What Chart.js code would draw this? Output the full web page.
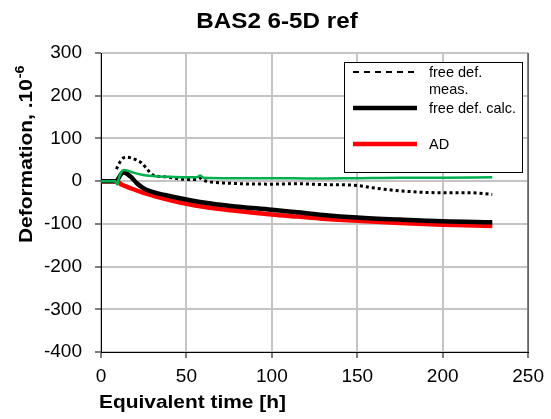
<!DOCTYPE html>
<html>
<head>
<meta charset="utf-8">
<script src="https://cdn.jsdelivr.net/npm/chart.js@4/dist/chart.umd.min.js"></script>
<style>
  html, body { margin: 0; padding: 0; background: #fff; }
  #c { display: block; }
</style>
</head>
<body>
<canvas id="c" width="551" height="419"></canvas>
<script>
// ---- chart texts ----
const chartTitle = "BAS2 6-5D ref";
const xTitle = "Equivalent time [h]";
const yTitleMain = "Deformation, .10";
const yTitleSup = "-6";

// ---- axes ----
const xTicks = [0, 50, 100, 150, 200, 250];
const yTicks = [-400, -300, -200, -100, 0, 100, 200, 300];

// ---- series: free def. meas. (dotted black) ----
const tMeas = [9, 10, 11, 12, 13, 15, 18, 21, 24, 27, 30, 38, 50, 56, 58, 60, 76, 100, 115, 130, 150, 158, 176, 198, 215, 229];
const vMeas = [28, 36, 44, 50, 54, 56, 54, 49, 42, 28, 15, 10, 4, 4, 7, 2, -5, -7, -6, -8, -10, -15, -23, -27, -27, -31];

// ---- series: free def. calc. (black) ----
const tCalc = [0, 9, 10, 11.5, 13, 15, 18, 21, 25, 30, 38, 50, 60, 76, 100, 115, 130, 150, 175, 200, 229];
const vCalc = [0, 0, 5, 15, 21, 18, 8, -5, -17, -25, -33, -43, -50, -58, -67, -73, -79, -85, -90, -94, -96];

// ---- series: AD (red) ----
const tAD = [0, 9, 12, 15, 19, 24, 28, 35, 42, 50, 60, 76, 100, 115, 130, 150, 175, 200, 229];
const vAD = [0, 0, -8, -13, -19, -26, -31, -39, -46, -53, -60, -68, -78, -83, -88, -93, -98, -102, -105];

// ---- series: green (not in legend) ----
const tGreen = [0, 8.5, 9.5, 10.5, 12, 13.5, 16, 19, 24, 30, 40, 50, 56, 58, 60, 76, 100, 125, 150, 175, 200, 229];
const vGreen = [0, 0, -8, 8, 22, 26, 24, 20, 15, 12, 10, 9, 9, 13, 8, 7, 7, 6, 7, 8, 8, 9];

const legendLabels = [["free def.", "meas."], ["free def. calc."], ["AD"]];

function pts(t, v) { return t.map((x, i) => ({ x: x, y: v[i] })); }

const FONT = '"Liberation Sans", Arial, sans-serif';
const STRETCH = 1.1;

const textPlugin = {
  id: 'texts',
  beforeDatasetsDraw(chart) {
    const { ctx, chartArea: a } = chart;
    ctx.save();
    ctx.strokeStyle = '#555';
    ctx.lineWidth = 1.5;
    ctx.beginPath();
    ctx.moveTo(a.right, a.top);
    ctx.lineTo(a.right, a.bottom);
    ctx.stroke();
    ctx.restore();
  },
  afterDraw(chart) {
    const { ctx } = chart;
    ctx.save();
    ctx.fillStyle = '#000';
    ctx.textBaseline = 'alphabetic';
    // title
    ctx.save();
    ctx.translate(277, 28);
    ctx.scale(STRETCH, 1);
    ctx.font = 'bold 22px ' + FONT;
    ctx.textAlign = 'center';
    ctx.fillText(chartTitle, 0, 0);
    ctx.restore();
    // x title
    ctx.save();
    ctx.translate(99, 408);
    ctx.scale(STRETCH, 1);
    ctx.font = 'bold 19px ' + FONT;
    ctx.textAlign = 'left';
    ctx.fillText(xTitle, 0, 0);
    ctx.restore();
    // y title rotated
    ctx.save();
    ctx.translate(32, 243);
    ctx.rotate(-Math.PI / 2);
    ctx.scale(STRETCH, 1);
    ctx.font = 'bold 19px ' + FONT;
    ctx.textAlign = 'left';
    ctx.fillText(yTitleMain, 0, 0);
    const w = ctx.measureText(yTitleMain).width;
    ctx.font = 'bold 13px ' + FONT;
    ctx.fillText(yTitleSup, w + 1, -8);
    ctx.restore();

    // legend box
    const bx = 344, by = 62, bw = 178, bh = 110;
    ctx.fillStyle = '#fff';
    ctx.fillRect(bx, by, bw, bh);
    ctx.strokeStyle = '#000';
    ctx.lineWidth = 1;
    ctx.strokeRect(bx + 0.5, by + 0.5, bw, bh);
    const ds = chart.data.datasets;
    const rows = [72, 108, 144];
    const lx1 = 353, lx2 = 417, tx = 429;
    for (let i = 0; i < 3; i++) {
      const d = ds[i];
      const y = rows[i];
      ctx.save();
      ctx.strokeStyle = d.borderColor;
      ctx.lineWidth = i === 0 ? 2 : 4.5;
      ctx.setLineDash(i === 0 ? [6, 5] : []);
      ctx.beginPath();
      ctx.moveTo(lx1, y);
      ctx.lineTo(lx2, y);
      ctx.stroke();
      ctx.restore();
      ctx.fillStyle = '#000';
      ctx.font = '14.5px ' + FONT;
      ctx.textAlign = 'left';
      ctx.textBaseline = 'middle';
      legendLabels[i].forEach((s, k) => ctx.fillText(s, tx, y + 1 + k * 17));
    }
    ctx.restore();
  }
};

new Chart(document.getElementById('c'), {
  type: 'scatter',
  data: {
    datasets: [
      { label: 'free def. meas.', data: pts(tMeas, vMeas), borderColor: '#000', borderWidth: 3, borderDash: [3, 3], order: 2 },
      { label: 'free def. calc.', data: pts(tCalc, vCalc), borderColor: '#000', borderWidth: 4.5, order: 3 },
      { label: 'AD', data: pts(tAD, vAD), borderColor: '#ff0000', borderWidth: 4.5, order: 4 },
      { label: 'series 4', data: pts(tGreen, vGreen), borderColor: '#00b050', borderWidth: 2.5, order: 1 }
    ].map(d => Object.assign({ showLine: true, pointRadius: 0, fill: false, cubicInterpolationMode: 'monotone', backgroundColor: d.borderColor }, d))
  },
  options: {
    responsive: false,
    animation: false,
    devicePixelRatio: 1,
    layout: { padding: { left: 0, right: 18, top: 53, bottom: 0 } },
    plugins: { legend: { display: false }, title: { display: false }, tooltip: { enabled: false } },
    scales: {
      x: {
        type: 'linear', min: 0, max: 250,
        afterBuildTicks: s => { s.ticks = xTicks.map(v => ({ value: v })); },
        afterFit: s => { s.height = 67; },
        grid: { color: '#c4c4c4', lineWidth: 2, tickColor: '#000', tickLength: 6, tickWidth: 1 },
        border: { color: '#000', width: 1 },
        ticks: { color: '#000', font: { family: FONT, size: 19 }, padding: 7, maxRotation: 0 }
      },
      y: {
        type: 'linear', min: -400, max: 300,
        afterBuildTicks: s => { s.ticks = yTicks.map(v => ({ value: v })); },
        afterFit: s => { s.width = 101; },
        grid: { color: '#c4c4c4', lineWidth: 2, tickColor: '#000', tickLength: 6, tickWidth: 1 },
        border: { color: '#000', width: 1 },
        ticks: { color: '#000', font: { family: FONT, size: 19 }, padding: 13 }
      }
    }
  },
  plugins: [textPlugin]
});
</script>
</body>
</html>
